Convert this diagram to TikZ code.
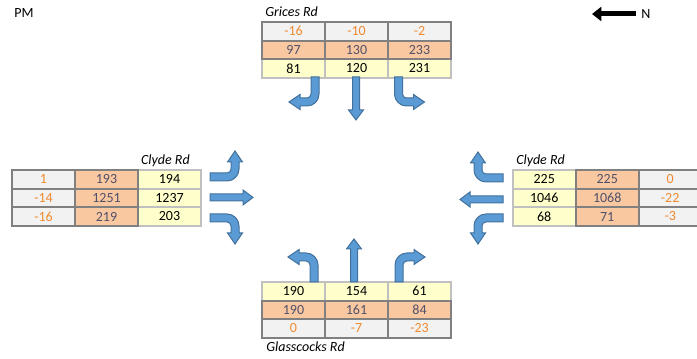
\documentclass[tikz,border=0pt]{standalone}
\usepackage{fontspec}
\setmainfont{Carlito}
\usetikzlibrary{positioning, arrows.meta}

\definecolor{diffgray}{HTML}{F2F2F2}
\definecolor{modorange}{HTML}{F9C8A0}
\definecolor{obsyellow}{HTML}{FFFFCC}
\definecolor{darkline}{HTML}{808080}
\definecolor{lightline}{HTML}{C0C0C0}
\definecolor{modtext}{HTML}{50506A}
\definecolor{difftext}{HTML}{F08A30}
\definecolor{arrowblue}{HTML}{5B9BD5}
\definecolor{arrowline}{HTML}{41719C}

\begin{document}
\begin{tikzpicture}
    [
        x=0.75pt, y=-0.75pt, node distance=13.95pt and 47.25pt, on grid,
        every node/.style={font=\fontsize{10.5pt}{12pt}\selectfont},
        cell/.style={minimum width=47.25pt, minimum height=13.95pt, inner sep=0pt, line width=1.5pt},
        obs_cell/.style={cell, draw=lightline, fill=obsyellow, text=black},
        mod_cell/.style={cell, draw=darkline, fill=modorange, text=modtext},
        diff_cell/.style={cell, draw=darkline, fill=diffgray, text=difftext},
        road_label/.style={font=\fontsize{10.5pt}{12pt}\selectfont\itshape, inner sep=0pt},
        arrow_body/.style={fill=arrowblue, draw=arrowline, line width=0.75pt},
        turn_arrow/.pic={\path[arrow_body] (4,0) -- (4,-17) .. controls (4,-23.63) and (-1.37,-29) .. (-8,-29) -- (-15,-29) -- (-15,-32.5) -- (-26,-25) -- (-15,-17.5) -- (-15,-21) -- (-8,-21) .. controls (-5.79,-21) and (-4,-19.21) .. (-4,-17) -- (-4,0) -- cycle;},
        straight_arrow/.pic={\path[arrow_body] (3.5,0) -- (3.5,-33) -- (7.5,-33) -- (0,-43) -- (-7.5,-33) -- (-3.5,-33) -- (-3.5,0) -- cycle;},
    ]
        \useasboundingbox (0,0) rectangle (697,359);
        \node[anchor=west, inner sep=0pt] (pm) at (14,13) {PM};
        \node[anchor=west, inner sep=0pt] (north) at (641,14) {N};
        \coordinate (ntip) at (592,14);
        \draw[-{Triangle[length=7pt, width=10.5pt]}, line width=3.75pt] ([xshift=-3.75pt]north.west) -- (ntip);

        % Grices Rd
        \node[road_label, anchor=west] (grices) at (265,12) {Grices Rd};
        \node[obs_cell] (gobs1) at (293.5,68.5) {81};
        \node[obs_cell] (gobs2) [right = of gobs1] {120};
        \node[obs_cell] (gobs3) [right = of gobs2] {231};
        \node[mod_cell] (gmod1) [above = of gobs1] {97};
        \node[mod_cell] (gmod2) [above = of gobs2] {130};
        \node[mod_cell] (gmod3) [above = of gobs3] {233};
        \node[diff_cell] (gdiff1) [above = of gmod1] {-16};
        \node[diff_cell] (gdiff2) [above = of gmod2] {-10};
        \node[diff_cell] (gdiff3) [above = of gmod3] {-2};
        \pic[yscale=-1] at (315,77) {turn_arrow};
        \pic[rotate=180] at (356,77) {straight_arrow};
        \pic[rotate=180] at (398.5,77) {turn_arrow};

        % Clyde Rd, west
        \node[road_label, anchor=east] (clydew) at (190,161) {Clyde Rd};
        \node[obs_cell] (cwobs1) at (169.5,179.3) {194};
        \node[obs_cell] (cwobs2) [below = of cwobs1] {1237};
        \node[obs_cell] (cwobs3) [below = of cwobs2] {203};
        \node[mod_cell] (cwmod1) [left = of cwobs1] {193};
        \node[mod_cell] (cwmod2) [left = of cwobs2] {1251};
        \node[mod_cell] (cwmod3) [left = of cwobs3] {219};
        \node[diff_cell] (cwdiff1) [left = of cwmod1] {1};
        \node[diff_cell] (cwdiff2) [left = of cwmod2] {-14};
        \node[diff_cell] (cwdiff3) [left = of cwmod3] {-16};
        \pic[rotate=-90] at (210,177) {turn_arrow};
        \pic[rotate=-90] at (210,197.5) {straight_arrow};
        \pic[rotate=-90, xscale=-1] at (210,218) {turn_arrow};

        % Clyde Rd, east
        \node[road_label, anchor=west] (clydee) at (516,161) {Clyde Rd};
        \node[obs_cell] (ceobs1) at (544.2,179.3) {225};
        \node[obs_cell] (ceobs2) [below = of ceobs1] {1046};
        \node[obs_cell] (ceobs3) [below = of ceobs2] {68};
        \node[mod_cell] (cemod1) [right = of ceobs1] {225};
        \node[mod_cell] (cemod2) [right = of ceobs2] {1068};
        \node[mod_cell] (cemod3) [right = of ceobs3] {71};
        \node[diff_cell] (cediff1) [right = of cemod1] {0};
        \node[diff_cell] (cediff2) [right = of cemod2] {-22};
        \node[diff_cell] (cediff3) [right = of cemod3] {-3};
        \pic[rotate=90, xscale=-1] at (503,178) {turn_arrow};
        \pic[rotate=90] at (503,199.5) {straight_arrow};
        \pic[rotate=90] at (503,218) {turn_arrow};

        % Glasscocks Rd
        \node[road_label, anchor=west] (glasscocks) at (266,347) {Glasscocks Rd};
        \node[obs_cell] (globs1) at (293.5,291.3) {190};
        \node[obs_cell] (globs2) [right = of globs1] {154};
        \node[obs_cell] (globs3) [right = of globs2] {61};
        \node[mod_cell] (glmod1) [below = of globs1] {190};
        \node[mod_cell] (glmod2) [below = of globs2] {161};
        \node[mod_cell] (glmod3) [below = of globs3] {84};
        \node[diff_cell] (gldiff1) [below = of glmod1] {0};
        \node[diff_cell] (gldiff2) [below = of glmod2] {-7};
        \node[diff_cell] (gldiff3) [below = of glmod3] {-23};
        \pic at (314,282) {turn_arrow};
        \pic at (354,282) {straight_arrow};
        \pic[xscale=-1] at (399,282) {turn_arrow};
    \end{tikzpicture}
\end{document}
